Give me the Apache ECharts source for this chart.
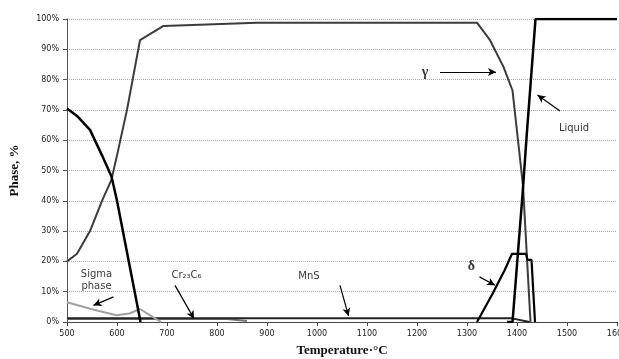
<!DOCTYPE html>
<html>
<head>
<meta charset="utf-8">
<script src="https://cdn.jsdelivr.net/npm/echarts@6/dist/echarts.min.js"></script>
<style>
  html, body { margin: 0; padding: 0; background: #fff; }
  #main { width: 619px; height: 359px; }
</style>
</head>
<body>
<div id="main"></div>
<script>
// phase fractions, [temperature, %]
var gamma = [[500, 20], [520, 22.5], [546, 30], [570, 40], [589, 47], [600, 55], [620, 70], [646, 93],
  [693, 97.7], [880, 98.8], [1320, 98.8], [1346, 93], [1373, 84.2], [1391, 76.4], [1412, 45], [1427, 0]];
var alpha = [[500, 70.5], [520, 68], [546, 63.4], [570, 55], [589, 48], [600, 40], [620, 23], [640, 6], [647, 0]];
var liquid = [[1380, 0], [1391, 0], [1411, 42], [1420, 63], [1437, 100], [1600, 100]];
var delta = [[1320, 0], [1350, 9], [1375, 17], [1390, 22.5], [1418, 22.5], [1421, 20.5], [1429, 20.5], [1436, 0]];
var sigma = [[500, 6.5], [550, 4.2], [599, 2.2], [625, 2.8], [646, 4.3], [668, 2], [688, 0]];
var cr23c6 = [[500, 1], [820, 1], [860, 0.3]];
var mns = [[500, 1.2], [1390, 1.2], [1425, 0]];

var xTicks = [500, 600, 700, 800, 900, 1000, 1100, 1200, 1300, 1400, 1500, 1600];

// annotations: text, position, arrow start, arrow end
var notes = [
  { text: 'γ', at: [1216, 82.5], from: [1246, 82.5], to: [1358, 82.5], greek: true },
  { text: 'Liquid', at: [1514, 64], from: [1486, 69.6], to: [1441, 74.9] },
  { text: 'δ', at: [1309, 18.4], from: [1325, 14.9], to: [1356, 12.1], greek: true },
  { text: 'Sigma\nphase', at: [559, 13.8], from: [593, 8.3], to: [553, 5.5] },
  { text: 'Cr₂₃C₆', at: [739, 15.4], from: [716, 12.1], to: [754, 1.1] },
  { text: 'MnS', at: [984, 15], from: [1046, 12.1], to: [1063, 2] }
];

var chart = echarts.init(document.getElementById('main'));

function line(name, data, color, width) {
  return {
    name: name,
    type: 'line',
    data: data,
    showSymbol: false,
    symbol: 'none',
    lineStyle: { color: color, width: width },
    z: 3
  };
}

var series = [
  line('Cr23C6', cr23c6, '#777', 2),
  line('MnS', mns, '#222', 2),
  line('Sigma', sigma, '#a0a0a0', 2),
  line('gamma', gamma, '#3c3c3c', 2),
  line('alpha', alpha, '#000', 2.5),
  line('delta', delta, '#000', 2.2),
  line('Liquid', liquid, '#000', 2.5)
];

// annotation layer
series.push({
  name: 'notes',
  type: 'scatter',
  data: notes.map(function (n) {
    return {
      value: n.at,
      label: {
        color: '#000',
        fontFamily: n.greek ? 'Liberation Serif' : 'DejaVu Sans',
        fontWeight: n.greek ? 'bold' : 'normal',
        fontSize: n.greek ? 14 : 10
      }
    };
  }),
  symbolSize: 0,
  itemStyle: { color: '#000' },
  label: {
    show: true,
    position: 'inside',
    color: '#000',
    lineHeight: 12,
    formatter: function (p) { return notes[p.dataIndex].text; }
  },
  silent: true,
  z: 5,
  markLine: {
    silent: true,
    symbol: ['none', 'arrow'],
    symbolSize: [6, 8],
    label: { show: false },
    lineStyle: { color: '#000', width: 1.2, type: 'solid' },
    data: notes.map(function (n) { return [{ coord: n.from }, { coord: n.to }]; })
  }
});

var option = {
  animation: false,
  grid: { left: 67, right: 2, top: 19, bottom: 37, containLabel: false, outerBoundsMode: 'none' },
  xAxis: {
    type: 'value',
    min: 500,
    max: 1600,
    interval: 100,
    name: 'Temperature·°C',
    nameLocation: 'middle',
    nameGap: 22,
    nameTextStyle: { fontFamily: 'Liberation Serif', fontWeight: 'bold', fontSize: 13, color: '#111' },
    axisLine: { lineStyle: { color: '#444', width: 1 } },
    axisTick: { show: true, length: 4, lineStyle: { color: '#444' } },
    axisLabel: {
      fontFamily: 'DejaVu Sans', fontSize: 8, color: '#222', margin: 8, hideOverlap: false,
      formatter: function (v) { return xTicks.indexOf(v) >= 0 ? v : ''; }
    },
    splitLine: { show: false }
  },
  yAxis: {
    type: 'value',
    min: 0,
    max: 100,
    interval: 10,
    name: 'Phase, %',
    nameLocation: 'middle',
    nameGap: 46,
    nameTextStyle: { fontFamily: 'Liberation Serif', fontWeight: 'bold', fontSize: 13, color: '#111' },
    axisLine: { show: true, lineStyle: { color: '#555', width: 1 } },
    axisTick: { show: true, length: 4, lineStyle: { color: '#555' } },
    axisLabel: { fontFamily: 'DejaVu Sans', fontSize: 8, color: '#222', margin: 8, formatter: '{value}%' },
    splitLine: { show: true, lineStyle: { color: '#aaa', type: 'dotted', width: 1 } }
  },
  series: series
};

chart.setOption(option);
</script>
</body>
</html>
